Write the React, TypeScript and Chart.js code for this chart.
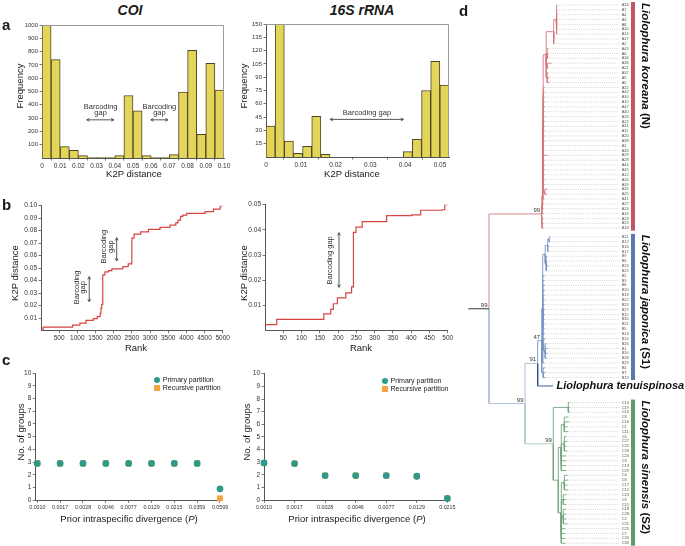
import React, { useEffect, useRef } from 'react';
import { Chart, registerables } from 'chart.js';
Chart.register(...registerables);

const FONT = '"Liberation Sans", Arial, Helvetica, sans-serif';
Chart.defaults.font.family = FONT;
Chart.defaults.color = '#333';

// ---------------- Panel a: histograms ----------------
const coiBinWidth = 0.005;
const coiFrequency = [1000, 740, 85, 58, 18, 4, 3, 4, 18, 470, 355, 18, 4, 4, 25, 495, 810, 178, 712, 510];
const coiFreqTicks = [100, 200, 300, 400, 500, 600, 700, 800, 900, 1000];
const coiDistTicks = [0, 0.01, 0.02, 0.03, 0.04, 0.05, 0.06, 0.07, 0.08, 0.09, 0.1];

const rrnaBinWidth = 0.00263;
const rrnaFrequency = [35, 150, 18, 4, 12, 46, 3, 0, 0, 0, 0, 0, 0, 0, 0, 6, 20, 75, 108, 81];
const rrnaFreqTicks = [15, 30, 45, 60, 75, 90, 105, 120, 135, 150];
const rrnaDistTicks = [0, 0.01, 0.02, 0.03, 0.04, 0.05];

// ---------------- Panel b: ranked distances (step starts) ----------------
const coiRank = [0, 61, 870, 1070, 1237, 1438, 1548, 1630, 1650, 1670, 1700, 1760, 1860, 1950, 2250, 2400, 2490, 2500, 2560, 2745, 2955, 3275, 3550, 3710, 3770, 3840, 3900, 4010, 4515, 4745, 4930, 5000];
const coiRankDist = [0.0012, 0.0028, 0.0044, 0.006, 0.0082, 0.0097, 0.0113, 0.014, 0.018, 0.021, 0.0446, 0.047, 0.048, 0.0494, 0.0513, 0.0535, 0.0545, 0.074, 0.0772, 0.079, 0.0811, 0.0827, 0.0845, 0.0862, 0.0885, 0.0915, 0.0925, 0.0939, 0.0953, 0.0972, 0.0998, 0.0998];
const coiRankTicks = [500, 1000, 1500, 2000, 2500, 3000, 3500, 4000, 4500, 5000];
const coiRankDistTicks = [0.01, 0.02, 0.03, 0.04, 0.05, 0.06, 0.07, 0.08, 0.09, 0.1];

const rrnaRank = [0, 32, 161, 180, 187, 198, 221, 237, 242, 249, 266, 333, 401, 426, 485, 492, 500];
const rrnaRankDist = [0.0024, 0.0045, 0.0067, 0.0085, 0.0107, 0.013, 0.015, 0.0174, 0.039, 0.0411, 0.0433, 0.0457, 0.046, 0.0478, 0.048, 0.05, 0.05];
const rrnaRankTicks = [50, 100, 150, 200, 250, 300, 350, 400, 450, 500];
const rrnaRankDistTicks = [0.01, 0.02, 0.03, 0.04, 0.05];

// ---------------- Panel c: number of groups ----------------
const coiThresholds = ['0.0010', '0.0017', '0.0028', '0.0046', '0.0077', '0.0129', '0.0215', '0.0359', '0.0599'];
const coiPrimary = [2.9, 2.9, 2.9, 2.9, 2.9, 2.9, 2.9, 2.9, 0.9];
const coiRecursive = [2.9, 2.9, 2.9, 2.9, 2.9, 2.9, 2.9, 2.9, 0.15];
const rrnaThresholds = ['0.0010', '0.0017', '0.0028', '0.0046', '0.0077', '0.0129', '0.0215'];
const rrnaPrimary = [2.95, 2.9, 1.95, 1.95, 1.95, 1.9, 0.15];
const rrnaRecursive = [2.95, 2.9, 1.95, 1.95, 1.95, 1.9, 0.15];
const groupTicks = [0, 1, 2, 3, 4, 5, 6, 7, 8, 9, 10];

// ---------------- Panel d: tree (Newick) ----------------
const koreanaTop = '((A16:0.8,A7:0.8,A4:0.8,A3:0.8,A8:0.8,A10:0.8,A14:0.8):2.5,A17:0.5,A2:0.5):7.5';
const koreanaCore = `((${koreanaTop},(A43:1,A6:1,A34:1):1,(A36:4,A21:1):1,(A37:1,A9:2,A5:2):1):3,A32:1.5,A42:1.5,A30:1.5,A15:1.5,A47:1.5,A40:1.5,A33:1.5,A22:1.5,A31:1.5,A11:1.5,A20:1.5,A38:1.5,A1:1,A46:1,A29:4,A28:1.5,A44:1.5,A45:1.5,A12:1.5,A26:1.5,A39:1.5,(A35:2.5,A25:2.5):1.5)`;
const koreana = `(((((${koreanaCore}:0.3,A41:1.5):0.3,A27:1.5):0.3,A24:1.5):0.3,A19:1.5):0.3,(A23:1.5,A13:1.5,A18:1.5):0.3)`;
const japonicaTop = '(((B11:1,B12:1):1.5,B16:1,B17:1):2.5,(B9:1,B6:1,B24:2,B25:1):1)';
const japonica = `((${japonicaTop}:2.5,B2:2,B3:2,B8:2,B20:2,B18:2,B22:2,B23:2,B27:2,B15:2,B30:2,B21:2,B5:2,B13:2,(B14:1.5,(B26:1,B1:2.5,B10:2.5,B28:1.5):1.5):1,B29:1.5):1,(B4:2,B7:2,B19:2):1.5)`;
const sinensis = '((C14:1.5,C19:1.5,C10:1.5):15,(((C8:4,C16:5,C1:3,C11:4):3,(C5:2,C27:3,C22:2,C26:3):3,C24:5,C3:5,C13:5,C29:5):3,((C4:3,C6:4,C17:3,C12:4):3,(C23:3,C9:3,C15:3):2,(C18:3,C28:3,C2:3,C21:4):2,C25:4,C7:4,C20:4,C30:4):3):5)';
const treeNewick = `(${koreana}99:52.7,((${japonica}47:4,Liolophura_tenuispinosa:15.3)91:12.7,${sinensis}99:28.3)99:36)99:20.7;`;
const tipGapBefore: [string, number][] = [['B11', 0.8], ['Liolophura_tenuispinosa', 0.74], ['C14', 2.42]];
const cladeNames = ['Liolophura koreana', 'Liolophura japonica', 'Liolophura sinensis'];
const cladeCodes = ['(N)', '(S1)', '(S2)'];
const cladeFirst = ['A16', 'B11', 'C14'];
const cladeLast = ['A18', 'B19', 'C30'];
const cladeBarColors = ['#c1565d', '#5b79aa', '#5f9a6b'];

// ---------------- annotation (barcoding gaps) ----------------
type Gap = { dir: 'h' | 'v'; from: number; to: number; at: number; lines: string[]; textX: number; textY: number };
const coiHistGaps: Gap[] = [
  { dir: 'h', from: 0.0246, to: 0.0395, at: 287, lines: ['Barcoding', 'gap'], textX: 0.0322, textY: 387 },
  { dir: 'h', from: 0.0598, to: 0.0692, at: 287, lines: ['Barcoding', 'gap'], textX: 0.0645, textY: 387 },
];
const rrnaHistGaps: Gap[] = [
  { dir: 'h', from: 0.01845, to: 0.0395, at: 42.4, lines: ['Barcoding gap'], textX: 0.029, textY: 49.5 },
];
const coiRankGaps: Gap[] = [
  { dir: 'v', from: 0.0232, to: 0.0432, at: 1328, lines: ['Barcoding', 'gap'], textX: 981, textY: 0.0346 },
  { dir: 'v', from: 0.0558, to: 0.0744, at: 2083, lines: ['Barcoding', 'gap'], textX: 1733, textY: 0.0672 },
];
const rrnaRankGaps: Gap[] = [
  { dir: 'v', from: 0.0172, to: 0.0389, at: 202.5, lines: ['Barcoding gap'], textX: 178, textY: 0.0279 },
];

function drawArrow(ctx: CanvasRenderingContext2D, x1: number, y1: number, x2: number, y2: number) {
  const a = Math.atan2(y2 - y1, x2 - x1);
  const h = 3;
  ctx.beginPath();
  ctx.moveTo(x1, y1);
  ctx.lineTo(x2, y2);
  for (const [px, py, ang] of [[x1, y1, a + Math.PI], [x2, y2, a]]) {
    ctx.moveTo(px - h * Math.cos(ang - 0.5), py - h * Math.sin(ang - 0.5));
    ctx.lineTo(px, py);
    ctx.lineTo(px - h * Math.cos(ang + 0.5), py - h * Math.sin(ang + 0.5));
  }
  ctx.stroke();
}

function gapPlugin(gaps: Gap[]) {
  return {
    id: 'gaps',
    afterDatasetsDraw(chart: any) {
      const { ctx } = chart;
      const xs = chart.scales.x, ys = chart.scales.y;
      ctx.save();
      ctx.strokeStyle = '#444';
      ctx.fillStyle = '#333';
      ctx.lineWidth = 0.9;
      ctx.font = `7.5px ${FONT}`;
      ctx.textAlign = 'center';
      ctx.textBaseline = 'middle';
      const lh = 6.6;
      gaps.forEach((g) => {
        if (g.dir === 'h') {
          const y = ys.getPixelForValue(g.at);
          drawArrow(ctx, xs.getPixelForValue(g.from), y, xs.getPixelForValue(g.to), y);
          const tx = xs.getPixelForValue(g.textX), ty = ys.getPixelForValue(g.textY);
          g.lines.forEach((l, i) => ctx.fillText(l, tx, ty + i * lh));
        } else {
          const x = xs.getPixelForValue(g.at);
          drawArrow(ctx, x, ys.getPixelForValue(g.from), x, ys.getPixelForValue(g.to));
          ctx.save();
          ctx.translate(xs.getPixelForValue(g.textX), ys.getPixelForValue(g.textY));
          ctx.rotate(-Math.PI / 2);
          g.lines.forEach((l, i) => ctx.fillText(l, 0, i * lh));
          ctx.restore();
        }
      });
      ctx.restore();
    },
  };
}

const framePlugin = {
  id: 'frame',
  afterDraw(chart: any) {
    const { ctx, chartArea: a } = chart;
    ctx.save();
    ctx.strokeStyle = '#9a9a9a';
    ctx.lineWidth = 1;
    ctx.beginPath();
    ctx.moveTo(a.left, a.top + 0.5);
    ctx.lineTo(a.right - 0.5, a.top + 0.5);
    ctx.lineTo(a.right - 0.5, a.bottom);
    ctx.stroke();
    ctx.restore();
  },
};

function axis(kind: 'x' | 'y', min: number, max: number, ticks: number[], fmt: (v: number) => string, fontSize: number, size: number, extra: any = {}) {
  return {
    type: 'linear',
    min,
    max,
    afterBuildTicks: (s: any) => { s.ticks = ticks.map((v) => ({ value: v })); },
    afterFit: (s: any) => { if (kind === 'x') s.height = size; else s.width = size; },
    grid: { drawOnChartArea: false, drawTicks: true, tickLength: 2.5, color: '#555', lineWidth: 0.8 },
    border: { display: true, color: '#555', width: 1 },
    ticks: { font: { size: fontSize, family: FONT }, color: '#333', padding: 1.5, autoSkip: false, maxRotation: 0, minRotation: 0, callback: (v: number) => fmt(v) },
    ...extra,
  };
}

const base = (padTop: number, padRight: number) => ({
  animation: false,
  responsive: false,
  devicePixelRatio: 1,
  layout: { padding: { top: padTop, right: padRight, left: 0, bottom: 0 } },
  plugins: { legend: { display: false }, tooltip: { enabled: false } },
});

const distFmt = (v: number) => (v === 0 ? '0' : v.toFixed(2));

function histConfig(binWidth: number, freq: number[], xMax: number, xTicks: number[], yMax: number, yTicks: number[], yWidth: number, xHeight: number, padTop: number, padRight: number, gaps: Gap[]) {
  return {
    type: 'bar',
    data: {
      datasets: [{
        data: freq.map((f, i) => ({ x: (i + 0.5) * binWidth, y: f })),
        backgroundColor: '#e3d45a',
        borderColor: '#4b4527',
        borderWidth: 1,
        barPercentage: 1,
        categoryPercentage: 1,
      }],
    },
    options: {
      ...base(padTop, padRight),
      scales: {
        x: axis('x', 0, xMax, xTicks, distFmt, 6.5, xHeight, { offset: false }),
        y: axis('y', 0, yMax, yTicks, (v) => String(v), 6, yWidth),
      },
    },
    plugins: [framePlugin, gapPlugin(gaps)],
  };
}

function rankConfig(ranks: number[], dists: number[], xMax: number, xTicks: number[], yMax: number, yTicks: number[], yWidth: number, padTop: number, padRight: number, gaps: Gap[]) {
  return {
    type: 'line',
    data: {
      datasets: [{
        data: ranks.map((r, i) => ({ x: r, y: dists[i] })),
        stepped: 'before',
        borderColor: '#d6463f',
        borderWidth: 1.2,
        pointRadius: 0,
        fill: false,
      }],
    },
    options: {
      ...base(padTop, padRight),
      scales: {
        x: axis('x', 0, xMax, xTicks, (v) => String(v), 6.5, 14.3),
        y: axis('y', 0, yMax, yTicks, (v) => v.toFixed(2), 6.5, yWidth),
      },
    },
    plugins: [gapPlugin(gaps)],
  };
}

function groupsConfig(labels: string[], primary: number[], recursive: number[], xMin: number, xMax: number, yWidth: number, padTop: number, padRight: number) {
  return {
    type: 'scatter',
    data: {
      datasets: [
        { label: 'Primary partition', data: primary.map((v, i) => ({ x: i, y: v })), pointStyle: 'circle', pointRadius: 3.4, backgroundColor: '#2f9a8b', borderWidth: 0, clip: false },
        { label: 'Recursive partition', data: recursive.map((v, i) => ({ x: i, y: v })), pointStyle: 'rect', pointRadius: 4.2, backgroundColor: '#f2a53e', borderWidth: 0, clip: false },
      ],
    },
    options: {
      ...base(padTop, padRight),
      scales: {
        x: axis('x', xMin, xMax, labels.map((_, i) => i), (v) => labels[Math.round(v)], 5.3, 14.7),
        y: axis('y', 0, 10, groupTicks, (v) => String(v), 6.5, yWidth),
      },
    },
  };
}

// ---------------- tree helpers ----------------
type TNode = { name: string; len: number; children: TNode[]; x: number; y: number; color: string };

function parseNewick(src: string): TNode {
  const s = src.replace(/\s+/g, '');
  let i = 0;
  function node(): TNode {
    const n: TNode = { name: '', len: 0, children: [], x: 0, y: 0, color: '#222' };
    if (s[i] === '(') {
      i++;
      for (;;) {
        n.children.push(node());
        if (s[i] === ',') { i++; continue; }
        if (s[i] === ')') { i++; break; }
        break;
      }
    }
    let name = '';
    while (i < s.length && !',():;'.includes(s[i])) name += s[i++];
    n.name = name;
    if (s[i] === ':') {
      i++;
      let num = '';
      while (i < s.length && !',();'.includes(s[i])) num += s[i++];
      n.len = parseFloat(num);
    }
    return n;
  }
  return node();
}

function buildTree() {
  const root = parseNewick(treeNewick);
  const gaps = new Map(tipGapBefore);
  const tips: TNode[] = [];
  let idx = 0;
  const walk = (n: TNode, px: number) => {
    n.x = px + n.len;
    if (!n.children.length) {
      if (tips.length) idx += 1 + (gaps.get(n.name) || 0);
      n.y = idx;
      tips.push(n);
    } else {
      n.children.forEach((c) => walk(c, n.x));
      n.y = (n.children[0].y + n.children[n.children.length - 1].y) / 2;
    }
  };
  walk(root, 0);
  const paint = (n: TNode, c: string) => { n.color = c; n.children.forEach((k) => paint(k, c)); };
  const A = root.children[0], BTC = root.children[1];
  const BT = BTC.children[0], B = BT.children[0], Tn = BT.children[1], C = BTC.children[1];
  root.color = '#222';
  paint(A, '#d7777c');
  BTC.color = '#a9bad3';
  BT.color = '#a3b5d2';
  paint(B, '#7893c3');
  Tn.color = '#2d4b8b';
  C.color = '#a9c9b0';
  C.children.forEach((k) => paint(k, '#72a47e'));
  return { root, tips };
}

const TIP_LABEL_X = 153.4;
const DOT_END_X = 151;
const BAR_X = 162.7;
const CLADE_LABEL_X = 176.4;

function treeConfig() {
  const { root, tips } = buildTree();
  const byColor = new Map<string, any[]>();
  const push = (c: string, pts: { x: number; y: number }[]) => {
    if (!byColor.has(c)) byColor.set(c, []);
    const arr = byColor.get(c)!;
    pts.forEach((p) => arr.push(p));
    arr.push({ x: pts[pts.length - 1].x, y: null });
  };
  push(root.color, [{ x: 0, y: root.y }, { x: root.x, y: root.y }]);
  const internals: TNode[] = [root];
  const walk = (n: TNode) => {
    n.children.forEach((c) => {
      push(c.color, [{ x: n.x, y: n.y }, { x: n.x, y: c.y }, { x: c.x, y: c.y }]);
      if (c.children.length) { internals.push(c); walk(c); }
    });
  };
  walk(root);
  const dots: any[] = [];
  tips.forEach((t) => {
    if (t.name.includes('_')) return;
    dots.push({ x: t.x, y: t.y }, { x: DOT_END_X, y: t.y }, { x: DOT_END_X, y: null });
  });
  const datasets: any[] = [{ data: dots, borderColor: '#b9b9b9', borderWidth: 0.6, borderDash: [1, 1.2], pointRadius: 0, spanGaps: false }];
  byColor.forEach((pts, c) => datasets.push({ data: pts, borderColor: c, borderWidth: 0.9, pointRadius: 0, spanGaps: false }));
  const tipY = (name: string) => tips.find((t) => t.name === name)!.y;

  const labelsPlugin = {
    id: 'treeLabels',
    afterDatasetsDraw(chart: any) {
      const { ctx } = chart;
      const xs = chart.scales.x, ys = chart.scales.y;
      ctx.save();
      // bootstrap values
      ctx.fillStyle = '#333';
      ctx.font = `6px ${FONT}`;
      ctx.textAlign = 'right';
      ctx.textBaseline = 'alphabetic';
      internals.forEach((n) => {
        if (n.name) ctx.fillText(n.name, xs.getPixelForValue(n.x) - 1.5, ys.getPixelForValue(n.y) - 2);
      });
      // tip labels
      ctx.textAlign = 'left';
      ctx.textBaseline = 'middle';
      tips.forEach((t) => {
        if (t.name.includes('_')) {
          ctx.fillStyle = '#111';
          ctx.font = `italic bold 11px ${FONT}`;
          ctx.fillText(t.name.replace(/_/g, ' '), xs.getPixelForValue(t.x) + 3.5, ys.getPixelForValue(t.y));
        } else {
          ctx.fillStyle = '#555';
          ctx.font = `4px ${FONT}`;
          ctx.fillText(t.name, xs.getPixelForValue(TIP_LABEL_X), ys.getPixelForValue(t.y));
        }
      });
      // clade bars + names
      const bx = xs.getPixelForValue(BAR_X);
      cladeNames.forEach((nm, k) => {
        const y1 = ys.getPixelForValue(tipY(cladeFirst[k])) - 3;
        const y2 = ys.getPixelForValue(tipY(cladeLast[k])) + 2.5;
        ctx.fillStyle = cladeBarColors[k];
        ctx.fillRect(bx, y1, 4, y2 - y1);
        ctx.save();
        ctx.translate(xs.getPixelForValue(CLADE_LABEL_X), y1 + 1);
        ctx.rotate(Math.PI / 2);
        ctx.fillStyle = '#111';
        ctx.textAlign = 'left';
        ctx.textBaseline = 'middle';
        ctx.font = `italic bold 11.5px ${FONT}`;
        ctx.fillText(nm, 0, 0);
        const w = ctx.measureText(nm + ' ').width;
        ctx.font = `bold 11.5px ${FONT}`;
        ctx.fillText(cladeCodes[k], w, 0);
        ctx.restore();
      });
      ctx.restore();
    },
  };

  return {
    type: 'line',
    data: { datasets },
    options: {
      animation: false,
      responsive: false,
      devicePixelRatio: 1,
      layout: { padding: 0 },
      plugins: { legend: { display: false }, tooltip: { enabled: false } },
      scales: {
        x: { type: 'linear', display: false, min: -13.3, max: 216.7 },
        y: { type: 'linear', display: false, min: -1.031, max: 111.53, reverse: true },
      },
    },
    plugins: [labelsPlugin],
  };
}

// ---------------- components ----------------
function ChartCanvas({ left, top, width, height, make }: { left: number; top: number; width: number; height: number; make: () => any }) {
  const ref = useRef<HTMLCanvasElement>(null);
  useEffect(() => {
    const chart = new Chart(ref.current as HTMLCanvasElement, make());
    return () => chart.destroy();
  }, []);
  return <canvas ref={ref} width={width} height={height} style={{ position: 'absolute', left, top, width, height }} />;
}

function Label({ x, y, size, anchor = 'start', bold = false, italic = false, rotate = 0, children }: any) {
  const st: React.CSSProperties = {
    position: 'absolute', fontSize: size, lineHeight: 1, whiteSpace: 'nowrap', fontFamily: FONT,
    fontWeight: bold ? 700 : 400, fontStyle: italic ? 'italic' : 'normal', color: '#1a1a1a',
  };
  if (rotate) return <div style={{ ...st, left: x, top: y, transform: `translate(-50%,-50%) rotate(${rotate}deg)` }}>{children}</div>;
  const tx = anchor === 'middle' ? '-50%' : anchor === 'end' ? '-100%' : '0';
  return <div style={{ ...st, left: x, top: y - size * 0.85, transform: `translateX(${tx})` }}>{children}</div>;
}

function LegendBox({ x, y }: { x: number; y: number }) {
  return (
    <>
      <div style={{ position: 'absolute', left: x - 3, top: y - 3, width: 6, height: 6, borderRadius: '50%', background: '#2f9a8b' }} />
      <Label x={x + 5.5} y={y + 2.5} size={7}>Primary partition</Label>
      <div style={{ position: 'absolute', left: x - 3, top: y + 5, width: 6, height: 6, background: '#f2a53e' }} />
      <Label x={x + 5.5} y={y + 10.5} size={7}>Recursive partition</Label>
    </>
  );
}

export default function App() {
  return (
    <div style={{ position: 'fixed', left: 0, top: 0, width: 685, height: 546, background: '#fff', overflow: 'hidden', fontFamily: FONT }}>
      <ChartCanvas left={0} top={18} width={232} height={160} make={() => histConfig(coiBinWidth, coiFrequency, 0.1, coiDistTicks, 1000, coiFreqTicks, 42, 20, 7, 8, coiHistGaps)} />
      <ChartCanvas left={232} top={18} width={225} height={160} make={() => histConfig(rrnaBinWidth, rrnaFrequency, 0.0526, rrnaDistTicks, 150, rrnaFreqTicks, 34, 21, 6, 8, rrnaHistGaps)} />
      <ChartCanvas left={0} top={195} width={232} height={150} make={() => rankConfig(coiRank, coiRankDist, 5000, coiRankTicks, 0.1, coiRankDistTicks, 41, 10.7, 9.3, coiRankGaps)} />
      <ChartCanvas left={232} top={195} width={225} height={150} make={() => rankConfig(rrnaRank, rrnaRankDist, 500, rrnaRankTicks, 0.05, rrnaRankDistTicks, 33, 9.7, 9.3, rrnaRankGaps)} />
      <ChartCanvas left={0} top={365} width={232} height={150} make={() => groupsConfig(coiThresholds, coiPrimary, coiRecursive, -0.088, 8.075, 35.3, 8, 10.3)} />
      <ChartCanvas left={232} top={365} width={225} height={150} make={() => groupsConfig(rrnaThresholds, rrnaPrimary, rrnaRecursive, 0, 6.04, 32, 8.7, 7)} />
      <ChartCanvas left={455} top={0} width={230} height={546} make={treeConfig} />

      <Label x={130} y={15} size={14} anchor="middle" bold italic>COI</Label>
      <Label x={362} y={15} size={14} anchor="middle" bold italic>16S rRNA</Label>
      <Label x={2} y={30} size={15} bold>a</Label>
      <Label x={2} y={210} size={15} bold>b</Label>
      <Label x={2} y={365} size={15} bold>c</Label>
      <Label x={459} y={16} size={15} bold>d</Label>

      <Label x={20} y={86} size={9.5} rotate={-90}>Frequency</Label>
      <Label x={244} y={86} size={9.5} rotate={-90}>Frequency</Label>
      <Label x={134} y={177} size={9.5} anchor="middle">K2P distance</Label>
      <Label x={352} y={177} size={9.5} anchor="middle">K2P distance</Label>

      <Label x={15} y={273} size={9.5} rotate={-90}>K2P distance</Label>
      <Label x={244} y={273} size={9.5} rotate={-90}>K2P distance</Label>
      <Label x={136} y={351} size={9.5} anchor="middle">Rank</Label>
      <Label x={361} y={351} size={9.5} anchor="middle">Rank</Label>

      <Label x={20.5} y={431.5} size={9.5} rotate={-90}>No. of groups</Label>
      <Label x={247} y={431.5} size={9.5} rotate={-90}>No. of groups</Label>
      <Label x={129} y={522} size={9.5} anchor="middle">Prior intraspecific divergence (<i>P</i>)</Label>
      <Label x={357} y={522} size={9.5} anchor="middle">Prior intraspecific divergence (<i>P</i>)</Label>

      <LegendBox x={157.3} y={379.7} />
      <LegendBox x={385} y={380.7} />
    </div>
  );
}
